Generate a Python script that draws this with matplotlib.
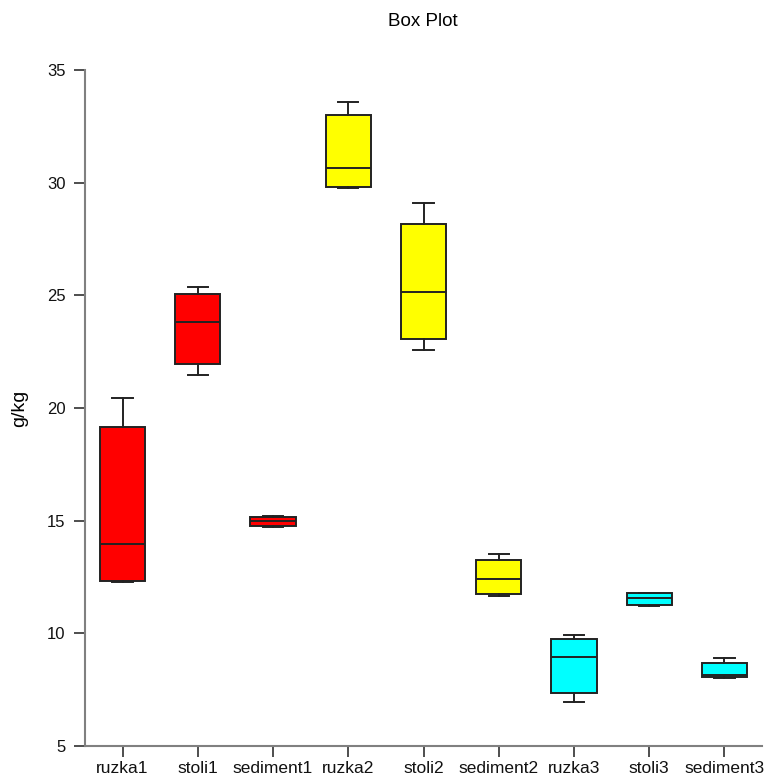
import matplotlib
matplotlib.use("Agg")
import matplotlib.pyplot as plt

plt.rcParams['font.family'] = ['Liberation Sans', 'DejaVu Sans']

categories = ["ruzka1", "stoli1", "sediment1", "ruzka2", "stoli2", "sediment2", "ruzka3", "stoli3", "sediment3"]
whis_low = [12.28, 21.46, 14.72, 29.76, 22.57, 11.65, 6.94, 11.22, 8.02]
q1 = [12.32, 21.95, 14.78, 29.80, 23.06, 11.76, 7.35, 11.25, 8.05]
median = [13.98, 23.82, 14.98, 30.65, 25.15, 12.40, 8.93, 11.59, 8.17]
q3 = [19.15, 25.06, 15.16, 33.00, 28.17, 13.25, 9.73, 11.77, 8.67]
whis_high = [20.44, 25.37, 15.20, 33.58, 29.10, 13.52, 9.94, 11.80, 8.89]
colors = ["#FF0000", "#FF0000", "#FF0000", "#FFFF00", "#FFFF00", "#FFFF00", "#00FFFF", "#00FFFF", "#00FFFF"]

fig = plt.figure(figsize=(7.65, 7.78), dpi=100)
ax = fig.add_axes([85/765, 1 - 746/778, (762-85)/765, (746-70)/778])

stats = []
for i, c in enumerate(categories):
    stats.append(dict(label=c, whislo=whis_low[i], q1=q1[i], med=median[i],
                      q3=q3[i], whishi=whis_high[i], fliers=[]))

positions = list(range(1, len(categories) + 1))
edge = "#222222"
bp = ax.bxp(stats, positions=positions, widths=0.6, patch_artist=True,
            capwidths=0.27, showfliers=False,
            boxprops=dict(edgecolor=edge, linewidth=1.4),
            medianprops=dict(color=edge, linewidth=1.4),
            whiskerprops=dict(color=edge, linewidth=1.4),
            capprops=dict(color=edge, linewidth=1.4))
for patch, col in zip(bp['boxes'], colors):
    patch.set_facecolor(col)

ax.set_xlim(0.5, 9.5)
ax.set_ylim(5, 35)
ax.set_yticks([5, 10, 15, 20, 25, 30, 35])
ax.set_xticks(positions)
ax.set_xticklabels(categories)

for s in ['top', 'right']:
    ax.spines[s].set_visible(False)
for s in ['left', 'bottom']:
    ax.spines[s].set_color('#808080')
    ax.spines[s].set_linewidth(1.5)
ax.tick_params(axis='both', direction='out', length=8, width=1.3, color='#404040',
               labelsize=12, labelcolor='#111111')
ax.tick_params(axis='x', pad=3, labelsize=12.5)
ax.tick_params(axis='y', pad=6)
fig.text(20/765, 1 - 408/778, "g/kg", rotation=90, ha='center', va='center', fontsize=14)
fig.text(423/765, 1 - 22/778, "Box Plot", ha='center', va='center', fontsize=13.5)

fig.savefig("out.png", dpi=100)
